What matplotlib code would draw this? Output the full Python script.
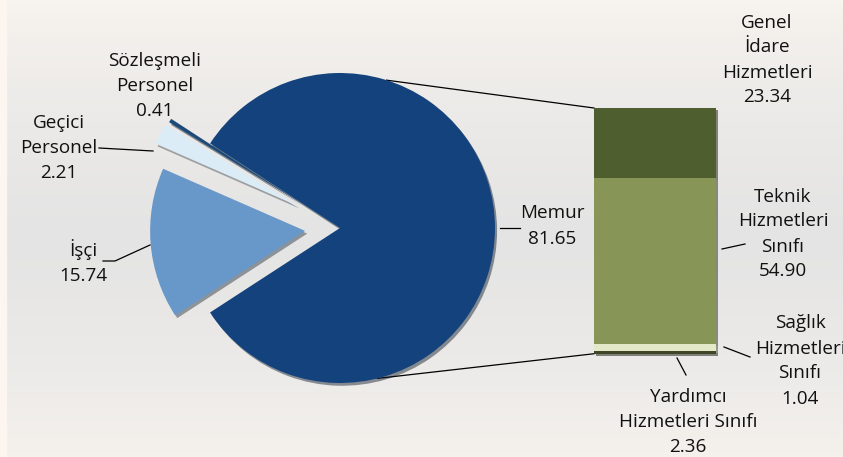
import numpy as np
import matplotlib
matplotlib.use('Agg')
import matplotlib.pyplot as plt
import matplotlib.patheffects as pe

# pie: Memur is split out into the bar on the right
pie_labels = ['Memur', 'Sözleşmeli\nPersonel', 'Geçici\nPersonel', 'İşçi']
pie_values = [81.65, 0.41, 2.21, 15.74]
pie_colors = ['#14427c', '#1d4a78', '#dcecf6', '#6898c9']

bar_labels = ['Genel\nİdare\nHizmetleri', 'Teknik\nHizmetleri\nSınıfı',
              'Yardımcı\nHizmetleri Sınıfı', 'Sağlık\nHizmetleri\nSınıfı']
bar_values = [23.34, 54.90, 2.36, 1.04]
bar_colors = ['#4f5e2f', '#879657', '#e3e8c8', '#3d4727']

W, H = 843, 457
fig = plt.figure(figsize=(W / 100, H / 100), dpi=100)
ax = fig.add_axes([0, 0, 1, 1])

plt.rcParams['font.family'] = ['Open Sans', 'DejaVu Sans']
FS = 13.6

# background gradient
top = np.array([0.973, 0.957, 0.937])
mid = np.array([0.894, 0.894, 0.894])
t = np.linspace(0, 1, 200)[:, None]
w = np.clip(1 - np.abs(t - 0.52) / 0.52, 0, 1) ** 0.7
grad = top * (1 - w) + mid * w
ax.imshow(grad[:, None, :], extent=(6, W, 0, H), aspect='auto', zorder=0)
ax.axvspan(0, 6, color='#fdf5ef', zorder=0)

def py(y):
    return H - y

# pie (explode in pixels since radius is in pixels)
cx, cy, R = 340, py(228), 155
explode_px = [0, 46, 48, 35]
wedges, _ = ax.pie(pie_values, colors=pie_colors, explode=explode_px,
                   startangle=-pie_values[0] / 100 * 180, counterclock=True,
                   center=(cx, cy), radius=R, frame=True,
                   wedgeprops=dict(linewidth=0))
for wd in wedges:
    wd.set_path_effects([pe.SimplePatchShadow(offset=(1.5, -2), alpha=0.45),
                         pe.Normal()])
    wd.set_zorder(3)
ax.set_xlim(0, W)
ax.set_ylim(0, H)
ax.set_aspect('equal')
ax.axis('off')

# bar of Memur
bx, bw = 655, 122
scale = 3.01
bar_top = py(108)
bottoms = bar_top - np.cumsum(np.array(bar_values)) * scale
bars = ax.bar([bx] * len(bar_values), np.array(bar_values) * scale,
              bottom=bottoms, width=bw, color=bar_colors, linewidth=0, zorder=3)
for b in bars:
    b.set_path_effects([pe.SimplePatchShadow(offset=(1.5, -1.5), alpha=0.5),
                        pe.Normal()])

# connector lines from pie to bar
a1, a2 = np.radians(72.5), np.radians(-76)
ax.plot([cx + R * np.cos(a1), bx - bw / 2], [cy + R * np.sin(a1), bar_top],
        color='black', lw=0.9, zorder=2)
ax.plot([cx + R * np.cos(a2), bx - bw / 2], [cy + R * np.sin(a2), bottoms[-1]],
        color='black', lw=0.9, zorder=2)

txt = dict(fontsize=FS, ha='center', va='center', linespacing=1.5,
           color='#111111', zorder=5)
lw = dict(color='black', lw=0.9, zorder=4)

# pie labels
ax.text(552, py(226), f'{pie_labels[0]}\n{pie_values[0]:.2f}', **txt)
ax.plot([500, 520], [py(228), py(228)], **lw)
ax.text(155, py(86), f'{pie_labels[1]}\n{pie_values[1]:.2f}', **txt)
ax.text(59, py(148), f'{pie_labels[2]}\n{pie_values[2]:.2f}', **txt)
ax.plot([99, 153], [py(148), py(151)], **lw)
ax.text(83, py(262), f'{pie_labels[3]}\n{pie_values[3]:.2f}', **txt)
ax.plot([103, 115, 150], [py(261), py(261), py(245)], **lw)

# bar labels
ax.text(767, py(60), f'{bar_labels[0]}\n{bar_values[0]:.2f}', **txt)
ax.text(783, py(234), f'{bar_labels[1]}\n{bar_values[1]:.2f}', **txt)
ax.plot([722, 745], [py(249), py(244)], **lw)
ax.text(688, py(422), f'{bar_labels[2]}\n{bar_values[2]:.2f}', **txt)
ax.plot([677, 686], [py(358), py(375)], **lw)
ax.text(800, py(361), f'{bar_labels[3]}\n{bar_values[3]:.2f}', **txt)
ax.plot([724, 750], [py(347), py(357)], **lw)

fig.savefig('out.png', dpi=100)
